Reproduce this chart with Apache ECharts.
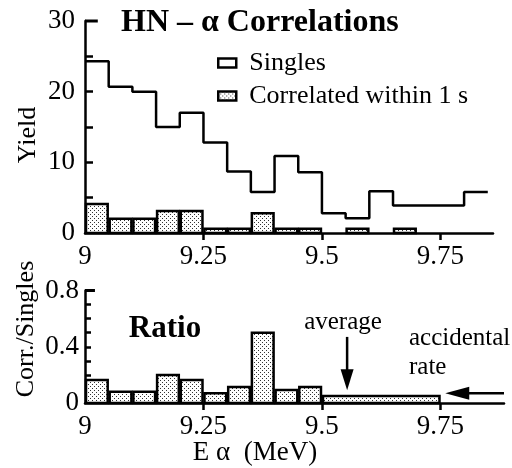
<!DOCTYPE html>
<html><head><meta charset="utf-8">
<script src="https://cdn.jsdelivr.net/npm/echarts@6/dist/echarts.min.js"></script>
<style>html,body{margin:0;padding:0;background:#fff}#c{width:512px;height:468px}</style>
</head><body><div id="c"></div>
<script>
// ---- data ----
const binEdges   = [9.00,9.05,9.10,9.15,9.20,9.25,9.30,9.35,9.40,9.45,9.50,9.55,9.60,9.65,9.70,9.75,9.80,9.85];
const singles    = [24.3,20.7,20.0,15.0,17.0,12.8,8.7,5.8,10.9,8.6,2.8,2.1,5.9,3.9,3.9,3.9,5.8];
const correlated = [4.1,2.0,2.0,3.1,3.1,0.6,0.6,2.8,0.6,0.6,0,0.6,0,0.6,0,0,0];
const ratioEdges = [9.00,9.05,9.10,9.15,9.20,9.25,9.30,9.35,9.40,9.45,9.50,9.75];
const ratio      = [0.164,0.08,0.08,0.2,0.164,0.07,0.114,0.5,0.093,0.114,0.05];
const xTickLabels = [9, 9.25, 9.5, 9.75];
const xTickMarks  = [9.25, 9.5, 9.75];
const yieldLabels = [0, 10, 20, 30];
const yieldTicks  = [5, 10, 15, 20, 25];
const ratioLabels = [0, 0.4, 0.8];
const ratioTicks  = [0.1, 0.2, 0.3, 0.4, 0.5, 0.6, 0.7];
const averageArrow    = [9.553, 0.47, 0.09];   // x, from y, to y
const accidentalArrow = [9.884, 9.76, 0.07];   // from x, to x, y

const FONT = '"Liberation Serif","DejaVu Serif",serif';

// stipple pattern
function makePattern(){
  const c = document.createElement('canvas'); c.width = 4; c.height = 4;
  const g = c.getContext('2d');
  g.fillStyle = '#fff'; g.fillRect(0,0,4,4);
  g.fillStyle = '#333'; g.fillRect(0,0,1,1); g.fillRect(2,2,1,1);
  return c;
}
const patCanvas = makePattern();
const pattern = {type:'pattern', image: patCanvas, repeat:'repeat'};

const singlesLine = binEdges.map((e,i)=>[e, singles[Math.min(i, singles.length-1)]]);
const corrBars = correlated.map((v,i)=>[binEdges[i], binEdges[i+1], v]);
const ratioBars = ratio.map((v,i)=>[ratioEdges[i], ratioEdges[i+1], v]);

function barItem(params, api){
  const lo = api.value(0), hi = api.value(1), v = api.value(2);
  if (!(v > 0)) return null;
  const p0 = api.coord([lo, 0]), p1 = api.coord([hi, v]);
  return {type:'rect',
    shape:{x:p0[0]+1, y:p1[1], width:p1[0]-p0[0]-2, height:p0[1]-p1[1]},
    style:{fill: pattern, stroke:'#000', lineWidth:2.5}};
}

const chart = echarts.init(document.getElementById('c'), null, {renderer:'canvas'});

const axisText = {fontFamily: FONT, fontSize: 27, color:'#000'};

chart.setOption({
  animation:false,
  backgroundColor:'#fff',
  grid:[
    {left:85, top:21, width:408, height:212},
    {left:85, top:290.5, width:419, height:112.5}
  ],
  xAxis:[
    {gridIndex:0, type:'value', min:9, max:9.861,
     axisLine:{lineStyle:{color:'#000', width:2.5}},
     axisTick:{customValues:xTickMarks, length:7, lineStyle:{color:'#000', width:2.5}},
     axisLabel:Object.assign({customValues:xTickLabels, margin:10}, axisText),
     splitLine:{show:false}},
    {gridIndex:1, type:'value', min:9, max:9.884,
     axisLine:{lineStyle:{color:'#000', width:2.5}},
     axisTick:{customValues:xTickMarks, length:7, lineStyle:{color:'#000', width:2.5}},
     axisLabel:Object.assign({customValues:xTickLabels, margin:10}, axisText),
     splitLine:{show:false}}
  ],
  yAxis:[
    {gridIndex:0, type:'value', min:0, max:30,
     axisLine:{show:true, lineStyle:{color:'#000', width:2.5}},
     axisTick:{customValues:yieldTicks, inside:true, length:8, lineStyle:{color:'#000', width:2.5}},
     axisLabel:Object.assign({customValues:yieldLabels, margin:10}, axisText),
     splitLine:{show:false}},
    {gridIndex:1, type:'value', min:0, max:0.8,
     axisLine:{show:true, lineStyle:{color:'#000', width:2.5}},
     axisTick:{customValues:ratioTicks, inside:true, length:6, lineStyle:{color:'#000', width:2.5}},
     axisLabel:Object.assign({customValues:ratioLabels, margin:6, formatter:v=>v===0?'0':String(v)}, axisText),
     splitLine:{show:false}}
  ],
  legend:{
    orient:'vertical', left:212, top:45, itemWidth:18, itemHeight:9, itemGap:7,
    textStyle:{fontFamily:FONT, fontSize:26, color:'#000', padding:[0,0,0,8]},
    data:[
      {name:'Singles', icon:'rect', itemStyle:{color:'#fff', borderColor:'#000', borderWidth:2.5}},
      {name:'Correlated within 1 s', icon:'rect', itemStyle:{color:pattern, borderColor:'#000', borderWidth:2.5}}
    ]
  },
  series:[
    {name:'Correlated within 1 s', type:'custom', xAxisIndex:0, yAxisIndex:0,
     renderItem:barItem, encode:{x:[0,1], y:2}, data:corrBars, z:2},
    {name:'Singles', type:'line', xAxisIndex:0, yAxisIndex:0, step:'end',
     data:singlesLine, showSymbol:false, symbol:'none',
     lineStyle:{color:'#000', width:2.5}, itemStyle:{color:'#000'}, z:3},
    {name:'Ratio', type:'custom', xAxisIndex:1, yAxisIndex:1,
     renderItem:barItem, encode:{x:[0,1], y:2}, data:ratioBars, z:2},
    // top stubs on the y axes
    {type:'custom', xAxisIndex:0, yAxisIndex:0, data:[[9, 9.027, 30]], encode:{x:[0,1], y:2}, silent:true,
     renderItem:(p,api)=>{const a=api.coord([api.value(0),api.value(2)]), b=api.coord([api.value(1),api.value(2)]);
       return {type:'line', shape:{x1:a[0],y1:a[1],x2:b[0],y2:b[1]}, style:{stroke:'#000', lineWidth:3}};}},
    {type:'custom', xAxisIndex:1, yAxisIndex:1, data:[[9, 9.021, 0.8]], encode:{x:[0,1], y:2}, silent:true,
     renderItem:(p,api)=>{const a=api.coord([api.value(0),api.value(2)]), b=api.coord([api.value(1),api.value(2)]);
       return {type:'line', shape:{x1:a[0],y1:a[1],x2:b[0],y2:b[1]}, style:{stroke:'#000', lineWidth:3}};}},
    // average arrow (vertical)
    {type:'custom', xAxisIndex:1, yAxisIndex:1, data:[averageArrow], encode:{x:0, y:[1,2]}, silent:true, z:5,
     renderItem:(p,api)=>{const a=api.coord([api.value(0),api.value(1)]), b=api.coord([api.value(0),api.value(2)]);
       const hl=21, hw=6.5;
       return {type:'group', children:[
         {type:'line', shape:{x1:a[0],y1:a[1],x2:b[0],y2:b[1]-hl+2}, style:{stroke:'#000', lineWidth:2.5}},
         {type:'polygon', shape:{points:[[b[0],b[1]],[b[0]-hw,b[1]-hl],[b[0]+hw,b[1]-hl]]}, style:{fill:'#000'}}
       ]};}},
    // accidental-rate arrow (horizontal, pointing left)
    {type:'custom', xAxisIndex:1, yAxisIndex:1, data:[accidentalArrow], encode:{x:[0,1], y:2}, silent:true, z:5,
     renderItem:(p,api)=>{const a=api.coord([api.value(0),api.value(2)]), b=api.coord([api.value(1),api.value(2)]);
       const hl=24, hw=6.5;
       return {type:'group', children:[
         {type:'line', shape:{x1:a[0],y1:a[1],x2:b[0]+hl-2,y2:b[1]}, style:{stroke:'#000', lineWidth:2.5}},
         {type:'polygon', shape:{points:[[b[0],b[1]],[b[0]+hl,b[1]-hw],[b[0]+hl,b[1]+hw]]}, style:{fill:'#000'}}
       ]};}}
  ],
  graphic:[
    {type:'text', left:121, top:7, style:{text:'HN – α Correlations', font:'bold 32px '+FONT, fill:'#000'}},
    {type:'text', x:28, y:135, rotation:Math.PI/2, style:{text:'Yield', font:'26px '+FONT, fill:'#000', align:'center', verticalAlign:'middle'}},
    {type:'text', x:26, y:329, rotation:Math.PI/2, style:{text:'Corr./Singles', font:'26px '+FONT, fill:'#000', align:'center', verticalAlign:'middle'}},
    {type:'text', x:165, y:329, style:{text:'Ratio', font:'bold 31px '+FONT, fill:'#000', align:'center', verticalAlign:'middle'}},
    {type:'text', x:343, y:322, style:{text:'average', font:'25px '+FONT, fill:'#000', align:'center', verticalAlign:'middle'}},
    {type:'text', x:409, y:338, style:{text:'accidental', font:'25px '+FONT, fill:'#000', align:'left', verticalAlign:'middle'}},
    {type:'text', x:409, y:367, style:{text:'rate', font:'25px '+FONT, fill:'#000', align:'left', verticalAlign:'middle'}},
    {type:'text', x:255, y:453, style:{text:'E α  (MeV)', font:'27px '+FONT, fill:'#000', align:'center', verticalAlign:'middle'}}
  ]
});
</script></body></html>
